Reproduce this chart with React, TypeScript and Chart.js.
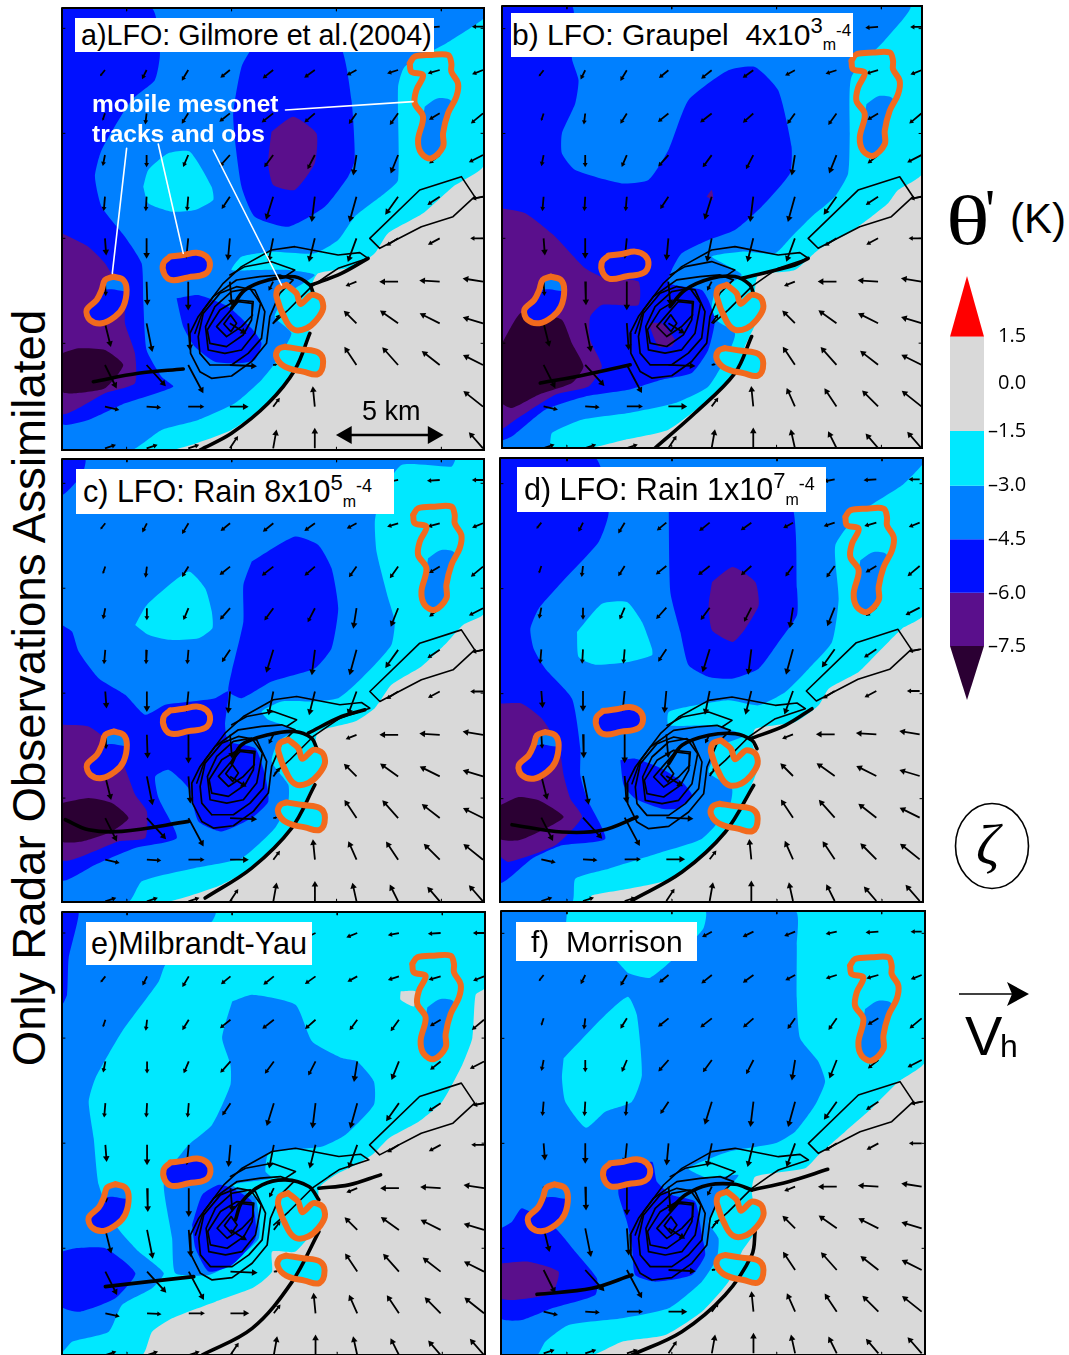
import React, { useEffect, useRef } from "react";
import { Chart, registerables } from "chart.js";

Chart.register(...registerables);

type Pt = number[];
type Poly = Pt[];

const CYAN = "#00e8ff", AZURE = "#0080ff", BLUE = "#0010ff", PURPLE = "#5a0f8c", DARK = "#2b0033", GRAY = "#d9d9d9", ORANGE = "#f26a1d", RED = "#ff0000";

// ---- wind vectors: tail grid and (dx, dy) per tail
const windX = [150, 275, 400, 525, 655, 780, 905, 1030, 1155, 1285];
const windY = [80, 210, 340, 465, 590, 715, 845, 970, 1095, 1220, 1345];
const windRows: (Pt | null)[][] = [
  [[-15, 12], [-15, 12], [-18, 12], [-20, 12], [-22, 12], [-25, 12], [-25, 10], [-25, 5], [-30, 2], [-25, 0]],
  [[-12, 15], [-10, 20], [-15, 25], [-22, 18], [-25, 20], [-25, 18], [-22, 12], [-25, 8], [-28, 8], [-25, 10]],
  [[-6, 18], [-3, 25], [-15, 24], [-25, 20], [-28, 22], [-25, 22], [-18, 25], [-20, 28], [-25, 15], [-30, 25]],
  [[-5, 25], [0, 28], [-12, 28], [-25, 28], [-22, 30], [-18, 35], [-8, 50], [-18, 45], [-25, 20], [-35, 18]],
  [[-3, 35], [-2, 35], [-3, 35], [-20, 30], [-18, 58], [-8, 65], [-18, 65], [-32, 45], [-30, 20], [-25, 5]],
  [[3, 40], [0, 50], [-5, 50], [-5, 55], [-12, 60], [-15, 60], [-22, 60], [-28, 18], [-28, 15], [-30, 0]],
  [[2, 35], [2, 60], [0, 75], [5, 60], [-10, 20], null, [-25, 10], [-45, 0], [-50, -3], [-50, -8]],
  [[15, 60], [15, 75], [5, 70], [40, 25], [15, -20], null, [-30, -30], [-45, -32], [-50, -25], [-50, -15]],
  [[30, 60], [50, 55], [40, 75], [70, 3], [8, -1], null, [-30, -45], [-40, -45], [-45, -35], [-50, -25]],
  [[35, 8], [35, 2], [40, 0], [45, 0], [15, -20], [-5, -50], [-20, -45], [-30, -45], [-40, -40], [-50, -40]],
  [[25, -8], [25, -8], [25, -8], [20, -30], [8, -45], [0, -50], [-10, -45], [-20, -40], [-30, -35], [-35, -40]],
];
// vectors that panel a leaves out around its scale arrow: [row, column]
const windHiddenA: Pt[] = [[9, 6], [9, 7], [9, 8], [10, 6], [10, 7], [10, 8]];

// ---- mobile mesonet tracks (orange) and what they observed
const trackTop: Poly = [[1065, 190], [1080, 170], [1130, 165], [1180, 165], [1190, 190], [1190, 215], [1210, 250], [1205, 290], [1180, 340], [1165, 400], [1165, 440], [1130, 475], [1100, 460], [1090, 420], [1105, 350], [1080, 310], [1085, 270], [1105, 225], [1070, 215]];
const trackTopAzure: Poly = [[1110, 320], [1150, 295], [1190, 305], [1165, 400], [1165, 440], [1130, 475], [1100, 460], [1090, 420], [1105, 350]];
const trackKidney: Poly = [[175, 830], [205, 840], [215, 870], [205, 920], [180, 950], [140, 970], [105, 960], [95, 930], [125, 900], [140, 870], [150, 840]];
const trackKidneyCap: Poly = [[140, 870], [150, 845], [175, 832], [205, 840], [213, 872], [170, 868]];
const trackPill: Poly = [[345, 770], [385, 765], [425, 758], [455, 770], [465, 797], [450, 822], [400, 832], [350, 840], [328, 822], [325, 790]];
const trackV: Poly = [[695, 855], [725, 880], [737, 912], [770, 885], [798, 895], [805, 925], [785, 960], [755, 985], [720, 990], [695, 965], [665, 890], [670, 865]];
const trackBar: Poly = [[690, 1040], [740, 1048], [790, 1057], [805, 1085], [790, 1122], [745, 1115], [690, 1100], [665, 1072], [670, 1048]];

// ---- vorticity contours around the vortex
const vortexRings: Poly[] = [
  [[470, 1135], [530, 1128], [590, 1085], [635, 1030], [645, 950], [675, 880], [715, 840], [675, 825], [615, 830], [545, 840], [475, 890], [430, 950], [405, 1000], [407, 1060], [435, 1115]],
  [[465, 1095], [530, 1095], [580, 1060], [620, 1015], [630, 935], [600, 870], [545, 860], [495, 880], [445, 940], [430, 1010], [435, 1060]],
  [[460, 1050], [510, 1060], [560, 1050], [600, 1000], [617, 910], [585, 865], [530, 875], [480, 920], [452, 980]],
  [[465, 1030], [515, 1040], [565, 1005], [590, 960], [595, 905], [545, 900], [495, 930], [457, 990]],
  [[515, 1010], [560, 980], [593, 945], [592, 910], [550, 905], [515, 945], [485, 980]],
  [[528, 995], [545, 970], [527, 945], [507, 972]],
];
const upperArc: Poly = [[420, 1000], [445, 930], [505, 850], [560, 800], [650, 750], [720, 740], [850, 765], [915, 758], [940, 775], [850, 805], [820, 825], [770, 860], [700, 930], [655, 970]];
const innerArc: Poly = [[525, 825], [570, 800], [650, 785], [720, 810], [690, 830]];
const outflowBand: Poly = [[945, 715], [1095, 570], [1220, 530], [1260, 590], [1195, 650], [1100, 680], [975, 745], [945, 715]];
const outflowStub: Poly = [[1260, 595], [1288, 590]];

// ---- theta' contours, panel a
const aGray: Poly = [[21, 24], [1288, 24], [1288, 1350], [21, 1350]];
const aCyan: Poly = [[21, 24], [1288, 24], [1288, 495], [1195, 560], [1105, 640], [1000, 700], [960, 760], [900, 800], [790, 820], [770, 860], [800, 900], [760, 1000], [745, 1040], [720, 1110], [640, 1210], [530, 1290], [350, 1350], [21, 1350]];
const aAzure: Poly = [[21, 24], [1288, 24], [1288, 55], [1175, 130], [1050, 200], [1030, 260], [1030, 540], [990, 580], [900, 650], [850, 720], [780, 760], [650, 755], [560, 770], [530, 810], [600, 810], [700, 810], [780, 825], [700, 880], [660, 950], [710, 1000], [660, 1090], [620, 1140], [540, 1210], [430, 1260], [320, 1290], [230, 1350], [21, 1350]];
const aIsland: Poly = [[265, 560], [280, 510], [340, 460], [405, 455], [470, 560], [475, 600], [420, 630], [350, 635], [280, 610]];
const aBlueLeft: Poly = [[21, 24], [290, 24], [315, 160], [300, 240], [230, 300], [140, 450], [120, 530], [140, 620], [210, 710], [260, 790], [265, 900], [275, 1050], [320, 1130], [355, 1160], [210, 1210], [100, 1260], [21, 1270]];
const aBlueCentre: Poly = [[600, 130], [850, 130], [890, 300], [900, 480], [880, 530], [810, 620], [700, 680], [600, 650], [560, 560], [535, 350], [560, 200]];
const aBlueVortex: Poly = [[365, 895], [430, 885], [520, 920], [590, 985], [620, 1030], [600, 1080], [550, 1090], [480, 1085], [420, 1040], [385, 980]];
const aPurpleLeft: Poly = [[21, 700], [100, 740], [150, 790], [210, 900], [210, 970], [240, 1060], [240, 1150], [150, 1180], [21, 1240]];
const aPurpleCentre: Poly = [[650, 395], [715, 350], [785, 400], [780, 490], [720, 570], [655, 555], [640, 490]];
const aDark: Poly = [[21, 1060], [70, 1045], [150, 1050], [205, 1095], [150, 1165], [60, 1180], [21, 1175]];
const aFrontS: Poly = [[435, 1350], [530, 1300], [640, 1210], [720, 1110], [765, 1000]];
const aFrontN: Poly = [[530, 925], [570, 870], [640, 840], [720, 830], [765, 855], [775, 880]];
const aFrontE: Poly = [[770, 855], [860, 820], [940, 775]];
const aFrontW: Poly = [[115, 1145], [250, 1120], [385, 1107]];

// ---- panel b
const bGray: Poly = [[20, 17], [1282, 17], [1282, 1345], [20, 1345]];
const bCyan: Poly = [[20, 17], [1282, 17], [1282, 520], [1210, 570], [1180, 610], [1130, 650], [1060, 700], [970, 750], [900, 810], [790, 825], [780, 880], [790, 950], [750, 1040], [720, 1120], [640, 1200], [520, 1290], [390, 1320], [280, 1345], [20, 1345]];
const bAzure: Poly = [[20, 17], [1245, 17], [1170, 120], [1070, 230], [1065, 400], [1060, 520], [1020, 590], [950, 650], [890, 710], [840, 760], [740, 755], [650, 770], [740, 825], [660, 880], [650, 950], [720, 1000], [700, 1060], [640, 1160], [540, 1210], [400, 1240], [260, 1260], [170, 1300], [160, 1345], [20, 1345]];
const bBlue: Poly = [[20, 17], [230, 17], [230, 175], [250, 240], [240, 310], [200, 400], [200, 460], [240, 510], [380, 550], [460, 540], [520, 450], [580, 300], [700, 210], [780, 200], [850, 270], [890, 440], [885, 520], [800, 620], [720, 690], [640, 720], [560, 760], [530, 810], [520, 850], [620, 870], [640, 900], [660, 960], [640, 1050], [590, 1120], [500, 1140], [400, 1170], [270, 1190], [150, 1230], [50, 1310], [20, 1320]];
const bPurple: Poly = [[20, 625], [90, 640], [180, 710], [270, 805], [330, 835], [430, 845], [430, 915], [320, 915], [285, 950], [285, 1020], [320, 1100], [280, 1160], [180, 1185], [60, 1260], [20, 1285]];
const bPurpleVortex: Poly = [[460, 970], [500, 970], [540, 1020], [530, 1040], [490, 1040]];
const bPurpleSpot: Poly = [[635, 590], [650, 570], [655, 600]];
const bDark: Poly = [[20, 1030], [75, 940], [140, 945], [200, 960], [230, 1030], [265, 1100], [230, 1150], [130, 1185], [50, 1225], [20, 1210]];
const bFrontS: Poly = [[480, 1345], [600, 1240], [720, 1120], [770, 1010]];
const bFrontN: Poly = [[525, 920], [570, 870], [650, 835], [720, 830], [765, 855], [775, 880]];
const bFrontE: Poly = [[740, 835], [900, 795], [940, 775]];
const bFrontW: Poly = [[135, 1150], [270, 1125], [405, 1095]];

// ---- panel c
const cGray: Poly = [[20, 12], [1288, 12], [1288, 1342], [20, 1342]];
const cCyan: Poly = [[20, 12], [1288, 12], [1288, 475], [1225, 510], [1170, 570], [1100, 635], [1010, 690], [960, 760], [900, 800], [790, 830], [780, 880], [790, 950], [750, 1040], [720, 1100], [620, 1220], [500, 1290], [330, 1342], [20, 1342]];
const cAzure: Poly = [[20, 12], [1200, 12], [1190, 35], [1040, 30], [975, 130], [960, 200], [965, 290], [1000, 430], [1020, 500], [1010, 570], [960, 630], [900, 690], [850, 730], [770, 740], [680, 740], [620, 770], [640, 795], [720, 825], [670, 860], [650, 920], [700, 990], [700, 1040], [660, 1120], [560, 1210], [420, 1240], [260, 1280], [220, 1342], [20, 1342]];
const cIsland: Poly = [[240, 510], [275, 450], [400, 350], [450, 400], [470, 470], [472, 520], [430, 550], [340, 555], [280, 540]];
const cBlueCorner: Poly = [[20, 12], [90, 12], [80, 60], [20, 120]];
const cBlueLeft: Poly = [[20, 510], [50, 530], [70, 590], [130, 670], [210, 720], [270, 780], [330, 750], [410, 740], [480, 730], [520, 710], [510, 810], [520, 860], [600, 880], [630, 960], [640, 1040], [590, 1090], [500, 1130], [430, 1100], [400, 1000], [340, 945], [300, 965], [310, 1030], [365, 1150], [240, 1180], [120, 1230], [20, 1275]];
const cBlueCentre: Poly = [[590, 320], [720, 245], [790, 270], [830, 340], [850, 460], [830, 580], [780, 640], [650, 680], [560, 730], [520, 710], [530, 650], [565, 500], [565, 390]];
const cPurple: Poly = [[20, 810], [100, 815], [160, 860], [205, 930], [240, 1020], [275, 1070], [270, 1150], [190, 1160], [20, 1215]];
const cDark: Poly = [[20, 1045], [100, 1030], [170, 1045], [220, 1090], [170, 1130], [80, 1160], [20, 1160]];
const cFrontS: Poly = [[450, 1330], [590, 1240], [710, 1120], [780, 990]];
const cFrontN: Poly = [[530, 925], [560, 870], [640, 840], [720, 830], [770, 850], [785, 880]];
const cFrontE: Poly = [[760, 835], [860, 785], [930, 765]];
const cFrontW: Poly = [[30, 1095], [100, 1125], [200, 1130], [400, 1100]];

// ---- panel d
const dGray: Poly = [[14, 8], [1283, 8], [1283, 1340], [14, 1340]];
const dCyan: Poly = [[14, 8], [1283, 8], [1283, 480], [1220, 520], [1140, 600], [1090, 650], [1000, 700], [970, 750], [900, 800], [780, 820], [770, 860], [790, 930], [760, 1010], [720, 1100], [640, 1180], [530, 1270], [400, 1300], [290, 1320], [280, 1340], [14, 1340]];
const dAzure: Poly = [[14, 8], [1283, 8], [1283, 25], [1220, 90], [1090, 175], [1020, 270], [1030, 430], [1010, 560], [940, 640], [870, 710], [790, 750], [700, 735], [600, 750], [520, 770], [520, 810], [640, 810], [750, 840], [680, 870], [640, 950], [710, 1000], [700, 1060], [620, 1150], [500, 1190], [340, 1240], [240, 1270], [230, 1340], [14, 1340]];
const dIsland: Poly = [[245, 530], [320, 445], [395, 440], [440, 500], [470, 580], [470, 600], [400, 620], [300, 628], [250, 605]];
const dBlueLeft: Poly = [[14, 8], [300, 8], [340, 170], [310, 260], [200, 380], [130, 460], [105, 520], [115, 580], [150, 640], [230, 730], [255, 880], [255, 960], [275, 1030], [330, 1150], [200, 1170], [110, 1210], [14, 1280]];
const dBlueCentre: Poly = [[520, 130], [880, 130], [905, 400], [905, 480], [850, 560], [790, 640], [710, 670], [640, 665], [580, 630], [555, 530], [525, 410]];
const dBlueVortex: Poly = [[375, 915], [420, 910], [500, 940], [560, 980], [590, 1020], [545, 1060], [500, 1060], [420, 1030], [385, 990]];
const dPurpleCentre: Poly = [[650, 380], [712, 335], [780, 380], [790, 450], [750, 520], [712, 560], [650, 525], [640, 450]];
const dPurpleLeft: Poly = [[14, 745], [80, 745], [140, 790], [190, 870], [205, 960], [225, 1030], [260, 1085], [180, 1170], [40, 1220], [14, 1200]];
const dDark: Poly = [[14, 1050], [70, 1025], [130, 1035], [205, 1085], [130, 1130], [70, 1155], [14, 1150]];
const dFrontS: Poly = [[410, 1335], [560, 1250], [690, 1130], [775, 990]];
const dFrontN: Poly = [[520, 925], [560, 870], [640, 840], [720, 835], [770, 855], [785, 880]];
const dFrontE: Poly = [[765, 850], [870, 810], [950, 760]];
const dFrontW: Poly = [[50, 1108], [200, 1130], [320, 1125], [425, 1085]];

// ---- panel e
const eGray: Poly = [[20, 22], [1288, 22], [1288, 1350], [20, 1350]];
const eCyan: Poly = [[20, 22], [1288, 22], [1288, 250], [1260, 270], [1250, 400], [1220, 480], [1160, 590], [1090, 650], [1000, 700], [950, 750], [900, 780], [840, 810], [790, 850], [790, 950], [720, 1040], [650, 1040], [650, 1100], [620, 1130], [590, 1150], [480, 1190], [350, 1240], [290, 1280], [260, 1350], [20, 1350]];
const eGraySpot: Poly = [[1035, 260], [1080, 260], [1075, 305], [1035, 285]];
const eAzureCentre: Poly = [[530, 290], [590, 270], [720, 300], [770, 410], [860, 460], [905, 470], [955, 530], [955, 600], [870, 690], [800, 725], [640, 745], [630, 800], [650, 820], [530, 840], [600, 880], [610, 1000], [520, 1080], [460, 1110], [360, 1105], [350, 1000], [325, 840], [360, 770], [400, 720], [470, 660], [525, 540], [525, 480], [500, 400]];
const eAzureLeft: Poly = [[20, 22], [480, 22], [470, 50], [330, 180], [310, 230], [200, 380], [120, 520], [100, 590], [115, 700], [130, 840], [180, 960], [250, 1040], [325, 1105], [290, 1150], [200, 1200], [160, 1280], [50, 1310], [20, 1340]];
const eBlueTop: Poly = [[20, 22], [70, 22], [40, 160], [35, 270], [20, 300]];
const eBlueLower: Poly = [[20, 1040], [60, 1030], [150, 1030], [240, 1105], [180, 1180], [75, 1220], [20, 1205]];
const eBlueVortex: Poly = [[410, 960], [440, 870], [490, 840], [530, 850], [590, 890], [600, 1000], [530, 1080], [460, 1100], [420, 1030]];
const eFrontS: Poly = [[440, 1350], [590, 1270], [710, 1130], [790, 980]];
const eFrontN: Poly = [[540, 945], [560, 890], [620, 840], [690, 825], [760, 845], [790, 885]];
const eFrontE: Poly = [[790, 850], [880, 840], [975, 810]];
const eFrontW: Poly = [[150, 1145], [280, 1130], [415, 1115]];

// ---- panel f
const fGray: Poly = [[17, 18], [1290, 18], [1290, 1350], [17, 1350]];
const fCyan: Poly = [[17, 18], [1290, 18], [1290, 470], [1210, 530], [1130, 610], [1050, 680], [970, 750], [930, 790], [780, 815], [770, 860], [785, 970], [740, 1040], [700, 1130], [620, 1220], [510, 1290], [380, 1310], [290, 1350], [17, 1350]];
const fAzure: Poly = [[17, 18], [900, 18], [905, 120], [905, 280], [915, 400], [970, 470], [990, 530], [960, 600], [900, 680], [840, 715], [700, 740], [580, 790], [640, 820], [730, 810], [690, 860], [640, 950], [670, 1000], [665, 1060], [620, 1130], [520, 1210], [380, 1240], [220, 1260], [150, 1310], [125, 1350], [17, 1350]];
const fIsland: Poly = [[205, 460], [330, 330], [398, 275], [425, 330], [440, 510], [410, 590], [330, 620], [272, 668], [210, 590], [200, 520]];
const fIslandTop: Poly = [[215, 18], [630, 18], [625, 70], [570, 130], [465, 218], [400, 205], [360, 165], [215, 120]];
const fBlueVortex: Poly = [[370, 810], [470, 770], [485, 830], [530, 870], [600, 890], [620, 990], [630, 1050], [590, 1110], [480, 1130], [420, 1110], [410, 1020], [395, 950], [370, 870]];
const fBlueLeft: Poly = [[17, 970], [50, 950], [80, 910], [180, 970], [240, 1040], [305, 1120], [300, 1170], [170, 1210], [80, 1245], [17, 1240]];
const fPurple: Poly = [[17, 1075], [100, 1070], [190, 1100], [170, 1165], [60, 1185], [17, 1180]];
const fFrontS: Poly = [[410, 1350], [560, 1280], [690, 1170], [770, 1050], [780, 980]];
const fFrontN: Poly = [[525, 915], [570, 870], [640, 840], [720, 838], [770, 855]];
const fFrontE: Poly = [[770, 855], [880, 830], [998, 793]];
const fFrontW: Poly = [[125, 1168], [290, 1150], [410, 1110]];

// ---- annotation lines, panel a
const leaderLines: Poly[] = [
  [[692, 330], [1075, 305]],
  [[215, 445], [172, 820]],
  [[310, 432], [385, 760]],
  [[475, 450], [680, 855]],
];
const scaleArrow: Poly = [[875, 1305], [1135, 1305]];

const edgeTicksX = [215, 530, 845, 1160];
const edgeTicksY = [85, 400, 715, 1030];

// ---- colour bar
const cbLevels = [1.5, 0.0, -1.5, -3.0, -4.5, -6.0, -7.5];
const cbPositions = [0, 0.9, 1.83, 2.89, 3.93, 4.97, 6.0];
const cbColours = [GRAY, CYAN, AZURE, BLUE, PURPLE];
const cbBandEdges = [0, 1.83, 2.89, 3.93, 4.97, 6.0];
const cbTipTop = -1.18;
const cbTipBottom = 7.05;

type PanelCfg = {
  box: number[]; // left, top, width, height on the page
  view: number[]; // x0, x1, y0, y1
  layers: [Poly, string][];
  fronts: Poly[];
  shifts: { wind: Pt; vortex: Pt; band: Pt; top: Pt; kidney: Pt; pill: Pt; v: Pt; bar: Pt };
  extras?: boolean;
  hidden?: Pt[];
};

const panels: PanelCfg[] = [
  {
    box: [62, 8, 422, 442], view: [21, 1288, 24, 1350],
    layers: [[aGray, GRAY], [aCyan, CYAN], [aAzure, AZURE], [aIsland, CYAN], [aBlueLeft, BLUE], [aBlueCentre, BLUE], [aBlueVortex, BLUE], [aPurpleLeft, PURPLE], [aPurpleCentre, PURPLE], [aDark, DARK]],
    fronts: [aFrontS, aFrontN, aFrontE, aFrontW],
    shifts: { wind: [0, 0], vortex: [0, 0], band: [0, 0], top: [0, 0], kidney: [0, 0], pill: [0, 0], v: [0, 0], bar: [0, 0] },
    extras: true,
    hidden: windHiddenA,
  },
  {
    box: [502, 6, 420, 442], view: [20, 1282, 17, 1345],
    layers: [[bGray, GRAY], [bCyan, CYAN], [bAzure, AZURE], [bBlue, BLUE], [bPurple, PURPLE], [bPurpleVortex, PURPLE], [bPurpleSpot, PURPLE], [bDark, DARK]],
    fronts: [bFrontS, bFrontN, bFrontE, bFrontW],
    shifts: { wind: [-5, 0], vortex: [0, 0], band: [-5, 0], top: [5, -8], kidney: [-8, 0], pill: [-5, -3], v: [0, 0], bar: [0, 5] },
  },
  {
    box: [62, 459, 422, 443], view: [20, 1288, 12, 1342],
    layers: [[cGray, GRAY], [cCyan, CYAN], [cAzure, AZURE], [cIsland, CYAN], [cBlueCorner, BLUE], [cBlueLeft, BLUE], [cBlueCentre, BLUE], [cPurple, PURPLE], [cDark, DARK]],
    fronts: [cFrontS, cFrontN, cFrontE, cFrontW],
    shifts: { wind: [0, -5], vortex: [5, -15], band: [0, -5], top: [10, -10], kidney: [0, 0], pill: [0, -3], v: [5, 0], bar: [5, 3] },
  },
  {
    box: [500, 458, 423, 444], view: [14, 1283, 8, 1340],
    layers: [[dGray, GRAY], [dCyan, CYAN], [dAzure, AZURE], [dIsland, CYAN], [dBlueLeft, BLUE], [dBlueCentre, BLUE], [dBlueVortex, BLUE], [dPurpleCentre, PURPLE], [dPurpleLeft, PURPLE], [dDark, DARK]],
    fronts: [dFrontS, dFrontN, dFrontE, dFrontW],
    shifts: { wind: [-12, -8], vortex: [-10, -15], band: [-12, -8], top: [-15, -5], kidney: [-25, 0], pill: [-22, -3], v: [-18, 0], bar: [-18, 5] },
  },
  {
    box: [62, 912, 423, 443], view: [20, 1288, 22, 1350],
    layers: [[eGray, GRAY], [eCyan, CYAN], [eGraySpot, GRAY], [eAzureLeft, AZURE], [eAzureCentre, AZURE], [eBlueTop, BLUE], [eBlueLower, BLUE], [eBlueVortex, BLUE]],
    fronts: [eFrontS, eFrontN, eFrontE, eFrontW],
    shifts: { wind: [0, 5], vortex: [0, -10], band: [-3, 5], top: [5, -12], kidney: [5, 8], pill: [0, 3], v: [3, 10], bar: [2, 12] },
  },
  {
    box: [501, 911, 424, 444], view: [17, 1290, 18, 1350],
    layers: [[fGray, GRAY], [fCyan, CYAN], [fAzure, AZURE], [fIsland, CYAN], [fIslandTop, CYAN], [fBlueVortex, BLUE], [fBlueLeft, BLUE], [fPurple, PURPLE]],
    fronts: [fFrontS, fFrontN, fFrontE, fFrontW],
    shifts: { wind: [-5, 0], vortex: [0, -10], band: [-5, 0], top: [0, -8], kidney: [3, 8], pill: [0, 5], v: [0, 5], bar: [0, 10] },
  },
];

const move = (p: Poly, s: Pt): Poly => p.map(([x, y]) => [x + s[0], y + s[1]]);
const pts = (p: Poly) => p.map(([x, y]) => ({ x, y }));
const closed = (p: Poly) => [...pts(p), { x: p[0][0], y: p[0][1] }];
const GAP = { x: NaN, y: NaN };

function shape(p: Poly, colour: string, tension = 0.18) {
  return { data: closed(p), showLine: true, fill: "shape", backgroundColor: colour, borderColor: colour, borderWidth: 0, pointRadius: 0, tension };
}
function stroke(p: { x: number; y: number }[], colour: string, width: number, tension = 0) {
  return { data: p, showLine: true, fill: false, borderColor: colour, borderWidth: width, pointRadius: 0, tension, borderJoinStyle: "round", borderCapStyle: "round" };
}

function buildWind(s: Pt, hidden: Pt[]) {
  const data: { x: number; y: number }[] = [];
  const rot: number[] = [];
  const rad: number[] = [];
  windRows.forEach((row, r) =>
    row.forEach((v, c) => {
      if (!v || hidden.some(([hr, hc]) => hr === r && hc === c)) return;
      const x = windX[c] + s[0], y = windY[r] + s[1];
      const len = Math.hypot(v[0], v[1]);
      const angle = (Math.atan2(v[0], -v[1]) * 180) / Math.PI;
      data.push({ x, y }, { x: x + v[0], y: y + v[1] }, GAP);
      rot.push(0, angle, 0);
      rad.push(0, len > 40 ? 3.8 : len > 22 ? 2.8 : 1.5, 0);
    })
  );
  return {
    data, showLine: true, fill: false, borderColor: "#000", backgroundColor: "#000", borderWidth: 1.8,
    pointStyle: "triangle", pointRadius: rad, pointRotation: rot, pointBorderWidth: 0, spanGaps: false,
  };
}

function buildDatasets(cfg: PanelCfg) {
  const s = cfg.shifts;
  const [x0, x1, y0, y1] = cfg.view;
  const sets: any[] = [];
  cfg.layers.forEach(([p, c]) => sets.push(shape(p, c)));
  // what the mesonets observed
  sets.push(shape(move(trackTop, s.top), CYAN, 0.3));
  sets.push(shape(move(trackTopAzure, s.top), AZURE, 0.3));
  sets.push(shape(move(trackKidney, s.kidney), BLUE, 0.35));
  sets.push(shape(move(trackKidneyCap, s.kidney), AZURE, 0.3));
  sets.push(shape(move(trackPill, s.pill), BLUE, 0.4));
  sets.push(shape(move(trackV, s.v), CYAN, 0.3));
  sets.push(shape(move(trackBar, s.bar), CYAN, 0.4));
  sets.push(buildWind(s.wind, cfg.hidden || []));
  vortexRings.forEach((r) => sets.push(stroke(closed(move(r, s.vortex)), "#000", 1.7, 0)));
  sets.push(stroke(pts(move(upperArc, s.vortex)), "#000", 1.6));
  sets.push(stroke(pts(move(innerArc, s.vortex)), "#000", 1.6));
  sets.push(stroke(pts(move(outflowBand, s.band)), "#000", 1.6));
  sets.push(stroke(pts(move(outflowStub, s.band)), "#000", 1.6));
  cfg.fronts.forEach((f) => sets.push(stroke(pts(f), "#000", 3.6, 0.35)));
  [trackTop, trackKidney, trackPill, trackV, trackBar].forEach((t, i) => {
    const sh = [s.top, s.kidney, s.pill, s.v, s.bar][i];
    sets.push(stroke(closed(move(t, sh)), ORANGE, 6, i < 2 ? 0.35 : i === 3 ? 0.3 : 0.4));
  });
  if (cfg.extras) {
    leaderLines.forEach((l) => sets.push(stroke(pts(l), "#fff", 1.6)));
    sets.push({
      data: pts(scaleArrow), showLine: true, fill: false, borderColor: "#000", backgroundColor: "#000", borderWidth: 2.6,
      pointStyle: "triangle", pointRadius: 10.5, pointRotation: [-90, 90], pointBorderWidth: 0,
    });
  }
  // inward edge ticks and the frame
  const tk: { x: number; y: number }[] = [];
  edgeTicksX.forEach((x) => tk.push({ x, y: y0 }, { x, y: y0 + 9 }, GAP, { x, y: y1 }, { x, y: y1 - 9 }, GAP));
  edgeTicksY.forEach((y) => tk.push({ x: x0, y }, { x: x0 + 9, y }, GAP, { x: x1, y }, { x: x1 - 9, y }, GAP));
  sets.push(stroke(tk, "#000", 1));
  const fr = stroke(closed([[x0, y0], [x1, y0], [x1, y1], [x0, y1]]), "#000", 2);
  sets.push({ ...fr, clip: false, borderJoinStyle: "miter" });
  sets.forEach((d, i) => (d.order = -i));
  return sets;
}

function Panel({ cfg }: { cfg: PanelCfg }) {
  const ref = useRef<HTMLCanvasElement>(null);
  useEffect(() => {
    const [x0, x1, y0, y1] = cfg.view;
    const chart = new Chart(ref.current!, {
      type: "scatter",
      data: { datasets: buildDatasets(cfg) as any },
      options: {
        animation: false, responsive: false, events: [],
        layout: { padding: 2, autoPadding: false },
        plugins: { legend: { display: false }, tooltip: { enabled: false } },
        scales: {
          x: { type: "linear", display: false, min: x0, max: x1 },
          y: { type: "linear", display: false, min: y0, max: y1, reverse: true },
        },
      },
    });
    return () => chart.destroy();
  }, [cfg]);
  const [l, t, w, h] = cfg.box;
  return <canvas ref={ref} width={w + 4} height={h + 4} style={{ position: "absolute", left: l - 2, top: t - 2, width: w + 4, height: h + 4 }} />;
}

function ColourBar() {
  const ref = useRef<HTMLCanvasElement>(null);
  useEffect(() => {
    const sets: any[] = [];
    cbColours.forEach((c, i) => {
      sets.push(shape([[0, cbBandEdges[i]], [1, cbBandEdges[i]], [1, cbBandEdges[i + 1]], [0, cbBandEdges[i + 1]]], c, 0));
    });
    sets.push(shape([[0, 0], [1, 0], [0.5, cbTipTop]], RED, 0));
    sets.push(shape([[0, 6], [1, 6], [0.5, cbTipBottom]], DARK, 0));
    const chart = new Chart(ref.current!, {
      type: "scatter",
      data: { datasets: sets },
      options: {
        animation: false, responsive: false, events: [],
        layout: { autoPadding: false },
        plugins: { legend: { display: false }, tooltip: { enabled: false } },
        scales: {
          x: { type: "linear", display: false, min: 0, max: 1 },
          y: {
            type: "linear", position: "right", min: cbTipTop, max: cbTipBottom, reverse: true,
            grid: { display: false, drawTicks: false }, border: { display: false },
            afterFit: (scale: any) => { scale.width = 85; scale.paddingTop = 0; scale.paddingBottom = 0; },
            afterBuildTicks: (scale: any) => { scale.ticks = cbPositions.map((value) => ({ value })); },
            ticks: {
              padding: 4, color: "#000", autoSkip: false, font: { family: "'Open Sans'", size: 20 },
              callback: (v: any) => {
                const lv = cbLevels[cbPositions.indexOf(Number(v))];
                return lv < 0 ? "\u2013" + Math.abs(lv).toFixed(1) : "\u2002" + lv.toFixed(1);
              },
            },
          },
        },
      },
    });
    return () => chart.destroy();
  }, []);
  return <canvas ref={ref} width={119} height={424} style={{ position: "absolute", left: 950, top: 276, width: 119, height: 424 }} />;
}

const SANS = "'Liberation Sans', Arial, sans-serif";

function Label({ box, size, children }: { box: number[]; size: number; children: React.ReactNode }) {
  const [x, y, w, h] = box;
  return (
    <div style={{ position: "absolute", left: x, top: y, width: w, height: h, background: "#fff", fontFamily: SANS, fontSize: size, lineHeight: h + "px", whiteSpace: "pre", color: "#000", overflow: "hidden" }}>
      {children}
    </div>
  );
}
const Up = ({ t, s }: { t: string; s: number }) => <span style={{ fontSize: s, position: "relative", top: -s * 0.55 }}>{t}</span>;
const Down = ({ t, s }: { t: string; s: number }) => <span style={{ fontSize: s, position: "relative", top: s * 0.3 }}>{t}</span>;

const Free = ({ x, y, size, children, style }: any) => (
  <div style={{ position: "absolute", left: x, top: y, fontFamily: SANS, fontSize: size, lineHeight: 1, whiteSpace: "pre", color: "#000", ...style }}>{children}</div>
);

export default function App() {
  return (
    <div style={{ position: "absolute", left: 0, top: 0, width: 1069, height: 1355, background: "#fff", overflow: "hidden" }}>
      {panels.map((p, i) => <Panel key={i} cfg={p} />)}
      <ColourBar />

      <Label box={[75, 18, 359, 34]} size={28.7}><span style={{ marginLeft: 6 }}>a)LFO: Gilmore et al.(2004)</span></Label>
      <Label box={[511, 13, 342, 44]} size={30}><span style={{ marginLeft: 1 }}>b) LFO: Graupel  4x10<Up t="3" s={22} /><Down t="m" s={16} /><Up t="-4" s={17} /></span></Label>
      <Label box={[76, 469, 318, 45]} size={30.5}><span style={{ marginLeft: 7 }}>c) LFO: Rain 8x10<Up t="5" s={22} /><Down t="m" s={16} /><Up t="-4" s={18} /></span></Label>
      <Label box={[517, 467, 309, 45]} size={30.5}><span style={{ marginLeft: 7 }}>d) LFO: Rain 1x10<Up t="7" s={22} /><Down t="m" s={16} /><Up t="-4" s={18} /></span></Label>
      <Label box={[86, 922, 226, 43]} size={30.7}><span style={{ marginLeft: 5 }}>e)Milbrandt-Yau</span></Label>
      <Label box={[516, 922, 181, 39]} size={30}><span style={{ marginLeft: 15 }}>f)  Morrison</span></Label>

      <Free x={92} y={92} size={24.5} style={{ color: "#fff", fontWeight: 700 }}>mobile mesonet</Free>
      <Free x={92} y={122} size={24.5} style={{ color: "#fff", fontWeight: 700 }}>tracks and obs</Free>
      <Free x={362} y={398} size={27}>5 km</Free>

      <div style={{ position: "absolute", left: 30, top: 688, width: 0, height: 0 }}>
        <div style={{ position: "absolute", transform: "translate(-50%,-50%) rotate(-90deg)", fontFamily: SANS, fontSize: 45.7, whiteSpace: "pre", color: "#000" }}>
          Only Radar Observations Assimilated
        </div>
      </div>

      <Free x={946} y={186} size={70} style={{ fontFamily: "'Liberation Serif', serif", transform: "scaleX(1.3)", transformOrigin: "left top" }}>θ</Free>
      <Free x={985} y={182} size={56} style={{ fontFamily: "'Liberation Serif', serif" }}>'</Free>
      <Free x={1010} y={198} size={42}>(K)</Free>

      <svg width={1069} height={1355} style={{ position: "absolute", left: 0, top: 0, pointerEvents: "none" }}>
        <ellipse cx={992} cy={846} rx={36.5} ry={42.5} fill="none" stroke="#000" strokeWidth={1.6} />
        <line x1={959} y1={994} x2={1012} y2={994} stroke="#000" strokeWidth={1.6} />
        <path d="M1007 982 L1029 994 L1007 1006 L1012 994 Z" fill="#000" />
      </svg>
      <Free x={976} y={816} size={58} style={{ fontFamily: "'Liberation Serif', serif", fontStyle: "italic" }}>ζ</Free>
      <Free x={965} y={1008} size={56}>V</Free>
      <Free x={1000} y={1030} size={32}>h</Free>
    </div>
  );
}
